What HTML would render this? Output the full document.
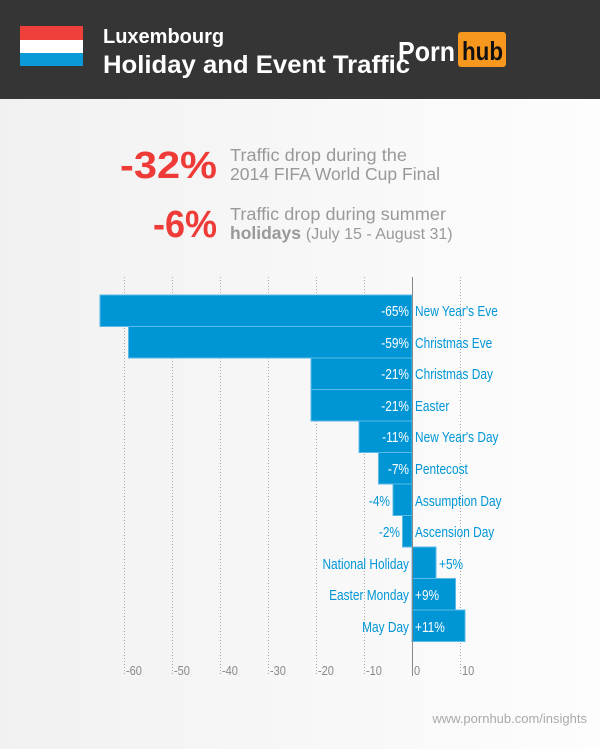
<!DOCTYPE html>
<html><head><meta charset="utf-8"><style>
body{margin:0;width:600px;height:749px;overflow:hidden;font-family:"Liberation Sans",sans-serif}
</style></head><body>
<svg width="600" height="749" xmlns="http://www.w3.org/2000/svg">
<defs><linearGradient id="bg" x1="0" y1="0" x2="1" y2="0"><stop offset="0" stop-color="#f1f1f1"/><stop offset="1" stop-color="#fdfdfd"/></linearGradient></defs>
<rect width="600" height="749" fill="url(#bg)"/>
<rect width="600" height="99" fill="#353535"/>
<rect x="20" y="26" width="63" height="14" fill="#ef3f3b"/>
<rect x="20" y="40" width="63" height="13" fill="#fff"/>
<rect x="20" y="53" width="63" height="13" fill="#0a9ad8"/>
<text x="103" y="43" fill="#fff" font-size="20" font-weight="bold">Luxembourg</text>
<text x="103" y="73" fill="#fff" font-size="25" font-weight="bold" textLength="307" lengthAdjust="spacingAndGlyphs">Holiday and Event Traffic</text>
<text x="398" y="61" fill="#fff" font-size="28" font-weight="bold" textLength="57" lengthAdjust="spacingAndGlyphs">Porn</text>
<rect x="458" y="32" width="48" height="35" rx="3" fill="#f7971d"/>
<text x="462" y="60" fill="#111" font-size="26" font-weight="bold" textLength="41" lengthAdjust="spacingAndGlyphs">hub</text>
<g font-weight="bold" fill="#ee3b37" font-size="38" text-anchor="end">
<text x="217" y="178" textLength="97" lengthAdjust="spacingAndGlyphs">-32%</text><text x="217" y="237" textLength="64" lengthAdjust="spacingAndGlyphs">-6%</text></g>
<g fill="#999" font-size="17.5"><text x="230" y="161" textLength="177" lengthAdjust="spacingAndGlyphs">Traffic drop during the</text><text x="230" y="180" textLength="210" lengthAdjust="spacingAndGlyphs">2014 FIFA World Cup Final</text>
<text x="230" y="220" textLength="216" lengthAdjust="spacingAndGlyphs">Traffic drop during summer</text><text x="230" y="239"><tspan font-weight="bold">holidays</tspan> <tspan font-size="16">(July 15 - August 31)</tspan></text></g>
<g stroke="#aaa" stroke-dasharray="1,2" stroke-width="1">
<line x1="124.5" y1="277" x2="124.5" y2="676"/><line x1="172.5" y1="277" x2="172.5" y2="676"/><line x1="220.5" y1="277" x2="220.5" y2="676"/><line x1="268.5" y1="277" x2="268.5" y2="676"/><line x1="316.5" y1="277" x2="316.5" y2="676"/><line x1="364.5" y1="277" x2="364.5" y2="676"/><line x1="460.5" y1="277" x2="460.5" y2="676"/></g>
<g fill="#0096d6" stroke="#5ab9e6" stroke-width="1">
<rect x="100" y="295" width="312" height="31.5"/>
<rect x="128.5" y="326.5" width="283.5" height="31.5"/>
<rect x="311" y="358" width="101" height="31.5"/>
<rect x="311" y="389.5" width="101" height="31.5"/>
<rect x="359" y="421" width="53" height="31.5"/>
<rect x="378.5" y="452.5" width="33.5" height="31.5"/>
<rect x="393" y="484" width="19" height="31.5"/>
<rect x="402.5" y="515.5" width="9.5" height="31.5"/>
<rect x="412" y="547" width="24" height="31.5"/>
<rect x="412" y="578.5" width="43.5" height="31.5"/>
<rect x="412" y="610" width="53" height="31.5"/>
</g>
<line x1="412.5" y1="277" x2="412.5" y2="676" stroke="#888"/>
<g font-size="14.5">
<g fill="#fff" text-anchor="end">
<g transform="translate(409,316) scale(0.82,1)"><text>-65%</text></g>
<g transform="translate(409,348) scale(0.82,1)"><text>-59%</text></g>
<g transform="translate(409,379) scale(0.82,1)"><text>-21%</text></g>
<g transform="translate(409,411) scale(0.82,1)"><text>-21%</text></g>
<g transform="translate(409,442) scale(0.82,1)"><text>-11%</text></g>
<g transform="translate(409,474) scale(0.82,1)"><text>-7%</text></g>
</g>
<g fill="#0096d6" text-anchor="end">
<g transform="translate(390,506) scale(0.82,1)"><text>-4%</text></g>
<g transform="translate(400,537) scale(0.82,1)"><text>-2%</text></g>
<g transform="translate(409,569) scale(0.82,1)"><text>National Holiday</text></g>
<g transform="translate(409,600) scale(0.82,1)"><text>Easter Monday</text></g>
<g transform="translate(409,632) scale(0.82,1)"><text>May Day</text></g>
</g>
<g fill="#0096d6">
<g transform="translate(415,316) scale(0.82,1)"><text>New Year's Eve</text></g>
<g transform="translate(415,348) scale(0.82,1)"><text>Christmas Eve</text></g>
<g transform="translate(415,379) scale(0.82,1)"><text>Christmas Day</text></g>
<g transform="translate(415,411) scale(0.82,1)"><text>Easter</text></g>
<g transform="translate(415,442) scale(0.82,1)"><text>New Year's Day</text></g>
<g transform="translate(415,474) scale(0.82,1)"><text>Pentecost</text></g>
<g transform="translate(415,506) scale(0.82,1)"><text>Assumption Day</text></g>
<g transform="translate(415,537) scale(0.82,1)"><text>Ascension Day</text></g>
<g transform="translate(439,569) scale(0.82,1)"><text>+5%</text></g>
</g>
<g fill="#fff">
<g transform="translate(415,600) scale(0.82,1)"><text>+9%</text></g>
<g transform="translate(415,632) scale(0.82,1)"><text>+11%</text></g>
</g>
<g fill="#888" font-size="13">
<g transform="translate(126,675) scale(0.85,1)"><text>-60</text></g>
<g transform="translate(174,675) scale(0.85,1)"><text>-50</text></g>
<g transform="translate(222,675) scale(0.85,1)"><text>-40</text></g>
<g transform="translate(270,675) scale(0.85,1)"><text>-30</text></g>
<g transform="translate(318,675) scale(0.85,1)"><text>-20</text></g>
<g transform="translate(366,675) scale(0.85,1)"><text>-10</text></g>
<g transform="translate(414,675) scale(0.85,1)"><text>0</text></g>
<g transform="translate(462,675) scale(0.85,1)"><text>10</text></g>
</g>
</g>
<text x="587" y="723" fill="#aaa" font-size="13" text-anchor="end">www.pornhub.com/insights</text>
</svg>
</body></html>
